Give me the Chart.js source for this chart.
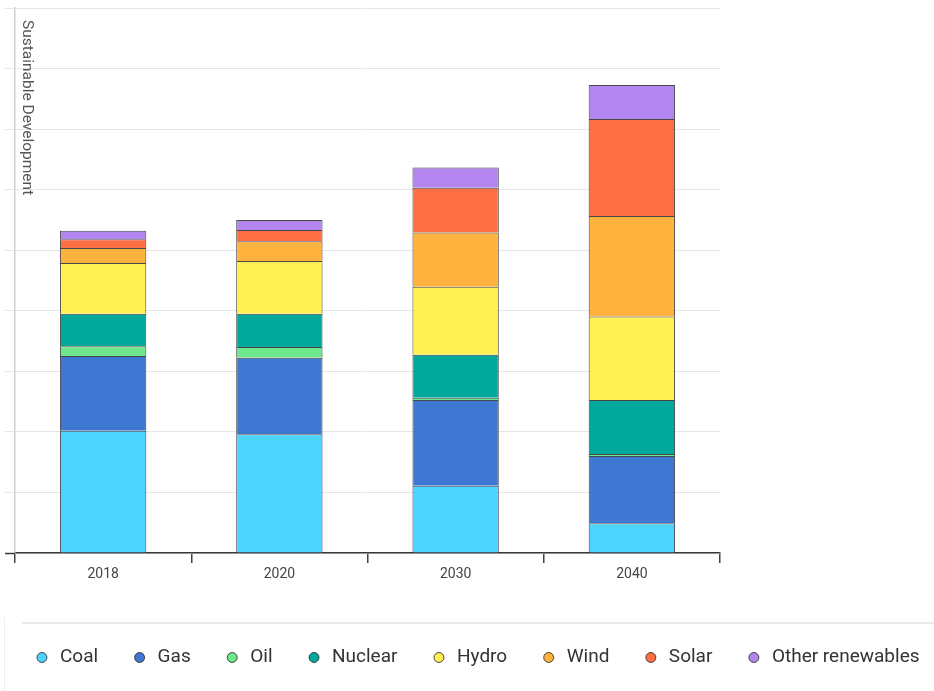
<!DOCTYPE html>
<html>
<head>
<meta charset="utf-8">
<style>
  html, body { margin: 0; padding: 0; background: #ffffff; }
  #wrap { width: 934px; height: 691px; position: relative; }
</style>
<script src="https://cdn.jsdelivr.net/npm/chart.js@4/dist/chart.umd.min.js"></script>
</head>
<body>
<div id="wrap"><canvas id="chart" width="934" height="691"></canvas></div>
<script>
// Electricity generation by source, Sustainable Development scenario (TWh)
const years = ['2018', '2020', '2030', '2040'];

const coal    = [10100, 9800, 5550, 2450];
const gas     = [6170, 6320, 7080, 5560];
const oil     = [800, 880, 190, 170];
const nuclear = [2690, 2750, 3550, 4460];
const hydro   = [4190, 4350, 5610, 6880];
const wind    = [1240, 1650, 4490, 8310];
const solar   = [720, 910, 3680, 8010];
const otherRenewables = [690, 830, 1680, 2810];

const seriesNames = ['Coal', 'Gas', 'Oil', 'Nuclear', 'Hydro', 'Wind', 'Solar', 'Other renewables'];
const seriesValues = [coal, gas, oil, nuclear, hydro, wind, solar, otherRenewables];
const seriesColors = ['#4dd3ff', '#3f78d3', '#6fe88d', '#00a99b', '#fff153', '#ffb23d', '#ff6f45', '#b286ee'];

const yAxisTitle = 'Sustainable Development';
const yMax = 45000;
const yStep = 5000;

const FONT = 'Roboto, "Open Sans", "DejaVu Sans", sans-serif';

const datasets = seriesNames.map((name, i) => ({
  label: name,
  data: seriesValues[i],
  backgroundColor: seriesColors[i],
  borderColor: 'rgba(40,40,40,0.85)',
  borderWidth: 1,
  barPercentage: 0.49,
  categoryPercentage: 1.0,
  pointStyle: 'circle'
}));

// Keep the legend on a single row and give it a fixed height at the foot of the page
const legendSizing = {
  id: 'legendSizing',
  beforeLayout(chart) {
    const lg = chart.legend;
    if (lg && !lg._fixedFit) {
      const baseFit = lg.fit;
      lg.fit = function () {
        const availWidth = this.maxWidth;
        this.maxWidth = 4000;
        baseFit.call(this);
        this.maxWidth = availWidth;
        this.width = availWidth;
        this.height = 76;
      };
      lg._fixedFit = true;
    }
  },
  afterLayout(chart) {
    // widen the legend box on both sides so the long row is not wrapped when drawn
    const lg = chart.legend;
    lg.left -= 193;
    lg.right += 207;
    lg.width = lg.right - lg.left;
  }
};

// Rotated axis caption, legend separator and base-line stub
const decorations = {
  id: 'decorations',
  afterDraw(chart) {
    const ctx = chart.ctx;
    const area = chart.chartArea;
    const y = chart.scales.y;
    ctx.save();

    // caption reading downwards, just inside the plot area
    ctx.translate(area.left + 4, area.top + 12);
    ctx.rotate(Math.PI / 2);
    ctx.font = '15.5px ' + FONT;
    ctx.fillStyle = '#555555';
    ctx.textAlign = 'left';
    ctx.textBaseline = 'bottom';
    ctx.fillText(yAxisTitle, 0, 0);
    ctx.setTransform(1, 0, 0, 1, 0, 0);

    // base line continues past the y axis
    const y0 = Math.round(y.getPixelForValue(0)) + 0.5;
    ctx.strokeStyle = '#3a3a3a';
    ctx.lineWidth = 1.5;
    ctx.beginPath();
    ctx.moveTo(area.left - 10, y0);
    ctx.lineTo(area.left, y0);
    ctx.stroke();

    // separator above the legend
    const lg = chart.legend;
    const sepY = lg.top + 8;
    ctx.strokeStyle = '#e8e8e8';
    ctx.lineWidth = 2;
    ctx.beginPath();
    ctx.moveTo(22, sepY);
    ctx.lineTo(chart.width, sepY);
    ctx.stroke();

    ctx.strokeStyle = '#eeeeee';
    ctx.lineWidth = 1;
    ctx.beginPath();
    ctx.moveTo(4.5, lg.top + 2);
    ctx.lineTo(4.5, chart.height);
    ctx.stroke();

    ctx.restore();
  }
};

new Chart(document.getElementById('chart'), {
  type: 'bar',
  data: { labels: years, datasets },
  plugins: [legendSizing, decorations],
  options: {
    responsive: false,
    animation: false,
    layout: { padding: { left: 5, top: 8, right: 0, bottom: 0 } },
    plugins: {
      tooltip: { enabled: false },
      legend: {
        position: 'bottom',
        align: 'center',
        labels: {
          usePointStyle: true,
          boxWidth: 17,
          boxHeight: 7,
          padding: 33,
          color: '#333333',
          font: { family: FONT, size: 19 }
        }
      }
    },
    scales: {
      x: {
        stacked: true,
        grid: {
          display: true,
          drawOnChartArea: false,
          drawTicks: true,
          tickLength: 10,
          color: '#444444',
          lineWidth: 1.5,
          offset: true
        },
        border: { display: true, color: '#3a3a3a', width: 1.5 },
        ticks: {
          color: '#444444',
          padding: 3,
          font: { family: FONT, size: 14 }
        },
        afterFit(scale) { scale.height = 62; }
      },
      y: {
        stacked: true,
        min: 0,
        max: yMax,
        grid: {
          color: '#e6e6e6',
          lineWidth: 1,
          drawTicks: true,
          tickLength: 10
        },
        border: { display: true, color: '#cfcfcf', width: 1.5 },
        ticks: { display: false, stepSize: yStep },
        afterFit(scale) { scale.width = 10; }
      },
      spacer: {
        type: 'linear',
        position: 'right',
        display: true,
        grid: { display: false },
        border: { display: false },
        ticks: { display: false },
        afterFit(scale) { scale.width = 214; }
      }
    }
  }
});
</script>
</body>
</html>
